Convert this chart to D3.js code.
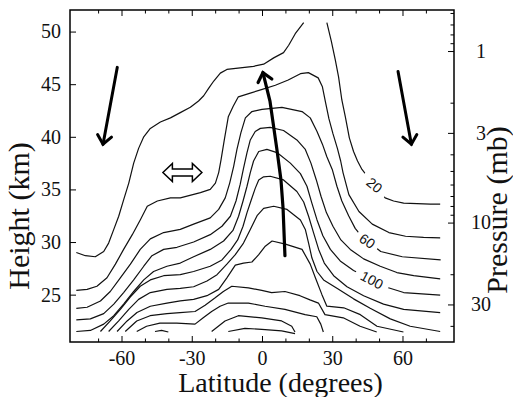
<!DOCTYPE html>
<html><head><meta charset="utf-8">
<script src="https://cdn.jsdelivr.net/npm/d3@7"></script>
<style>body{margin:0;background:#fff}</style>
</head><body>
<svg id="c" width="513" height="397"></svg>
<script>
// ---------- data ----------
const latTicks = [-60, -30, 0, 30, 60];
const latMinorTicks = [-70, -50, -40, -20, -10, 10, 20, 40, 50, 70];
const heightTicks = [25, 30, 35, 40, 45, 50];
const pressureLabels = [1, 3, 10, 30];
const pressureMinor = [0.6, 0.7, 0.8, 0.9, 2, 4, 5, 6, 7, 8, 9, 20, 40];
const Z1MB = 48.15, SCALE_H = 7.08;   // height of 1 mb level and scale height (km)

// contour lines [latitude, height km]
const c20a = [[-79.3,29.0],[-75.4,28.7],[-71.2,28.6],[-67.6,29.1],[-65.5,29.9],[-63.3,31.2],[-61.2,32.45],[-59.1,34.0],[-56.9,35.6],[-54.8,37.5],[-52.7,38.9],[-50.5,40.0],[-47.7,40.8],[-43.4,41.4],[-39.1,41.8],[-34.9,42.3],[-30.6,42.8],[-27.1,43.4],[-24.9,43.9],[-22.8,44.6],[-20.6,45.3],[-17.8,46.05],[-15.0,46.4],[-9.3,46.55],[-3.6,46.7],[0.7,46.9],[5.0,47.5],[9.2,48.0],[11.4,48.7],[14.2,49.8],[17.8,50.85]];
const c20b = [[27.7,50.85],[29.6,49.1],[31.3,47.3],[32.7,45.7],[34.1,43.5],[35.6,41.9],[37.3,39.9],[39.1,38.6],[40.8,37.7],[42.7,36.9],[44.1,36.5],[52.6,34.2],[56.2,33.9],[60.5,33.7],[66.2,33.65],[71.9,33.6],[76.1,33.6]];
const c40 = [[-79.3,25.4],[-74.7,25.5],[-70.5,25.8],[-66.2,26.6],[-62.6,27.9],[-59.1,29.3],[-55.4,30.7],[-52.0,32.1],[-49.0,33.4],[-44.7,33.9],[-39.1,34.2],[-34.9,34.2],[-26.3,34.7],[-22.1,35.0],[-19.9,35.6],[-18.5,36.6],[-17.5,37.8],[-16.1,39.7],[-14.4,41.9],[-12.3,42.9],[-10.1,43.8],[-5.0,44.15],[0.1,44.5],[5.7,44.9],[11.2,45.4],[16.4,46.0],[19.8,46.1],[24.0,45.6],[25.8,44.75],[27.2,43.2],[28.6,41.7],[30.3,40.3],[32.2,38.9],[33.6,37.7],[34.6,36.6],[37.1,34.5],[41.4,32.9],[47.1,31.7],[54.2,30.9],[61.3,30.55],[69.0,30.45],[76.1,30.4]];
const c60 = [[-79.3,23.7],[-74.7,23.8],[-69.0,24.4],[-64.8,25.3],[-60.5,26.6],[-56.2,27.9],[-52.0,29.3],[-47.7,30.3],[-42.0,30.9],[-34.9,31.2],[-29.2,31.7],[-22.1,32.3],[-18.5,33.1],[-15.7,34.2],[-13.8,35.6],[-12.1,37.2],[-10.7,38.8],[-9.0,40.4],[-7.1,41.8],[-4.3,42.4],[0.0,42.6],[8.5,42.8],[17.1,42.4],[20.6,41.8],[23.5,40.5],[25.8,39.3],[27.7,38.1],[30.0,36.9],[32.0,35.3],[34.1,33.9],[37.0,32.5],[39.8,31.3],[42.3,30.6],[50.7,29.1],[59.9,28.6],[76.3,28.3]];
const c80 = [[-79.3,22.6],[-73.3,22.7],[-67.6,23.2],[-63.3,24.1],[-59.1,25.2],[-54.8,26.4],[-50.5,27.7],[-47.0,28.7],[-42.0,29.3],[-36.3,29.5],[-29.2,30.0],[-22.1,30.7],[-17.1,31.5],[-13.5,32.45],[-11.1,33.9],[-9.3,35.5],[-7.9,37.0],[-6.4,38.5],[-5.0,39.7],[-2.9,40.5],[-0.7,40.8],[3.5,40.9],[9.2,40.6],[14.9,39.7],[18.5,38.8],[20.9,37.5],[23.2,35.9],[25.2,34.35],[27.5,32.8],[30.3,31.5],[33.7,30.2],[37.7,29.3],[43.4,28.4],[50.5,27.7],[57.6,27.1],[64.8,26.8],[76.1,26.5]];
const c100 = [[-79.3,21.5],[-73.3,21.6],[-67.6,22.2],[-63.3,23.0],[-59.1,24.1],[-54.8,25.3],[-50.5,26.4],[-46.3,27.2],[-40.6,27.7],[-34.9,28.0],[-29.2,28.6],[-22.1,29.3],[-16.4,30.1],[-12.4,31.1],[-10.0,32.45],[-8.1,33.9],[-6.4,35.3],[-5.0,36.6],[-3.6,37.7],[-1.4,38.6],[2.1,38.8],[6.4,38.5],[12.1,37.5],[16.4,36.5],[19.2,35.3],[21.3,33.7],[23.5,32.1],[26.0,30.6],[29.2,29.3],[33.4,28.2],[39.1,27.3],[53.3,25.7],[60.5,25.2],[76.1,24.95]];
const c120 = [[-69.0,21.5],[-64.8,22.5],[-60.5,23.6],[-56.2,24.8],[-52.0,25.8],[-47.7,26.4],[-42.0,26.8],[-34.9,26.9],[-29.2,27.2],[-22.1,27.7],[-17.1,28.3],[-13.2,29.3],[-10.4,30.2],[-8.1,31.5],[-6.4,32.8],[-4.6,34.0],[-2.9,35.1],[-1.4,35.9],[0.7,36.2],[3.5,36.25],[9.2,35.9],[14.9,34.8],[17.8,33.8],[19.9,32.45],[22.0,30.9],[24.2,29.3],[26.6,28.0],[30.6,26.8],[36.3,25.75],[43.4,24.9],[51.9,24.1],[60.5,23.6],[76.1,23.3]];
const c140 = [[-65.5,21.5],[-61.2,22.5],[-56.9,23.6],[-52.7,24.55],[-47.7,25.2],[-40.6,25.5],[-34.9,25.6],[-29.2,25.75],[-23.5,26.3],[-19.2,26.9],[-15.0,27.9],[-11.4,28.8],[-7.9,29.9],[-5.0,31.2],[-2.1,32.5],[0.7,33.2],[5.0,33.4],[10.7,33.1],[16.4,32.1],[18.5,31.2],[19.9,29.9],[21.3,28.5],[23.5,27.2],[26.3,26.4],[32.0,25.6],[39.1,24.6],[46.2,23.7],[54.8,22.7],[63.3,22.0],[76.1,21.5]];
const c160 = [[-61.9,21.5],[-57.6,22.5],[-53.4,23.3],[-47.7,23.9],[-40.6,24.2],[-34.9,24.4],[-29.2,24.55],[-23.5,24.9],[-18.5,25.5],[-15.0,26.6],[-11.4,27.8],[-7.9,28.0],[-4.3,28.1],[-1.4,28.8],[1.4,29.6],[4.3,30.1],[10.0,29.8],[17.1,29.3],[20.6,27.9],[22.8,26.6],[25.6,25.0],[27.7,23.9],[34.9,23.75],[42.0,23.1],[49.1,22.0],[60.4,21.45]];
const c180 = [[-58.4,21.5],[-53.5,22.5],[-47.8,23.0],[-40.6,23.2],[-35.0,23.3],[-28.6,23.4],[-24.3,24.0],[-20.0,24.7],[-16.5,25.3],[-12.9,25.8],[-5.8,25.65],[-0.1,25.4],[4.1,25.2],[9.8,25.3],[16.2,24.9],[20.5,24.5],[24.1,24.2],[26.9,23.1],[34.7,22.8],[41.9,22.0],[49.0,21.45]];
const c200 = [[-53.5,21.5],[-49.3,22.0],[-43.6,22.3],[-36.4,22.3],[-28.6,22.2],[-25.1,22.8],[-21.5,23.4],[-17.9,23.9],[-14.4,24.2],[-5.8,24.2],[1.3,23.9],[9.8,23.6],[18.4,23.1],[23.4,22.9],[25.1,22.2],[26.2,21.45]];
const c220a = [[-45.7,21.5],[-42.9,21.6],[-40.0,21.45]];
const c220b = [[-21.5,21.5],[-15.8,22.5],[-10.1,23.0],[-0.1,22.8],[8.4,22.5],[12.7,22.0],[14.1,21.45]];
const c240 = [[-14.4,21.5],[-7.3,21.8],[-0.1,21.7],[8.4,21.55],[14.1,21.3]];

const contours = [c20a, c20b, c40, c60, c80, c100, c120, c140, c160, c180, c200, c220a, c220b, c240];

// contour labels
const labelValues = ["20", "60", "100"];
const labelPos = [[48.0, 35.4], [45.0, 30.1], [47.0, 26.4]];
const labelAngle = [40, 35, 28];
const labelGap = [30, 25, 36];

// circulation arrows
const arrowLeft = [[-61.8, 46.6], [-67.9, 39.3]];
const arrowRight = [[58.1, 46.2], [63.8, 39.3]];
const arrowUp = [[9.8, 28.7], [9.0, 33.2], [8.1, 35.9], [6.3, 38.9], [3.4, 43.4], [0.4, 46.1]];
const doubleArrowCenter = [-34.0, 36.6];

// ---------- drawing ----------
const svg = d3.select('#c');
const L = 70, R = 454, T = 10, B = 342;
const x = d3.scaleLinear().domain([-82, 82]).range([L, R]);
const y = d3.scaleLinear().domain([20.5, 52.05]).range([B, T]);
const pOfZ = z => Math.exp((Z1MB - z) / SCALE_H);
const yp = d3.scaleLog().domain([pOfZ(52.05), pOfZ(20.5)]).range([T, B]);

const serif = '"Liberation Serif","Times New Roman",Times,serif';
const line = d3.line().x(d => x(d[0])).y(d => y(d[1]));

svg.append('rect').attr('width', 513).attr('height', 397).attr('fill', '#fff');

// contours
svg.append('g').selectAll('path').data(contours).join('path')
  .attr('d', line).attr('fill', 'none').attr('stroke', '#111')
  .attr('stroke-width', 1.2).attr('stroke-linejoin', 'round');

// contour labels
labelValues.forEach((v, i) => {
  const g = svg.append('g')
    .attr('transform', `translate(${x(labelPos[i][0])},${y(labelPos[i][1])}) rotate(${labelAngle[i]})`);
  g.append('rect').attr('x', -labelGap[i] / 2).attr('y', -6).attr('width', labelGap[i]).attr('height', 12).attr('fill', '#fff');
  g.append('text').attr('text-anchor', 'middle').attr('dy', '0.36em')
    .attr('font-family', '"Liberation Sans",Arial,Helvetica,sans-serif').attr('font-size', 14)
    .attr('fill', '#111').text(v);
});

// arrows
function drawArrow(pts, w) {
  const p = pts.map(d => [x(d[0]), y(d[1])]);
  svg.append('path').attr('d', d3.line()(p)).attr('fill', 'none')
    .attr('stroke', '#000').attr('stroke-width', w).attr('stroke-linecap', 'round');
  const tip = p[p.length - 1], prev = p[p.length - 2];
  const a = Math.atan2(prev[1] - tip[1], prev[0] - tip[0]);
  const len = 11, sp = 0.7;
  const a1 = [tip[0] + len * Math.cos(a + sp), tip[1] + len * Math.sin(a + sp)];
  const a2 = [tip[0] + len * Math.cos(a - sp), tip[1] + len * Math.sin(a - sp)];
  svg.append('path').attr('d', d3.line()([a1, tip, a2])).attr('fill', 'none')
    .attr('stroke', '#000').attr('stroke-width', w).attr('stroke-linecap', 'round').attr('stroke-linejoin', 'miter');
}
drawArrow(arrowLeft, 3);
drawArrow(arrowRight, 3);
drawArrow(arrowUp, 3.2);

// hollow double arrow
svg.append('path')
  .attr('transform', `translate(${x(doubleArrowCenter[0])},${y(doubleArrowCenter[1])})`)
  .attr('d', 'M-19.5,0 L-10,-9 L-10,-3.5 L10,-3.5 L10,-9 L19.5,0 L10,9 L10,3.5 L-10,3.5 L-10,9 Z')
  .attr('fill', '#fff').attr('stroke', '#000').attr('stroke-width', 1.5).attr('stroke-linejoin', 'miter');

// axes (inward ticks)
function styleAxis(g) {
  g.select('.domain').remove();
  g.selectAll('line').attr('stroke', '#000').attr('stroke-width', 1);
  g.selectAll('text').attr('font-family', serif).attr('font-size', 20).attr('fill', '#111');
}
svg.append('g').attr('transform', `translate(0,${B})`)
  .call(d3.axisBottom(x).tickValues(latTicks).tickSize(-6).tickPadding(9).tickFormat(d => d < 0 ? '-' + Math.abs(d) : d))
  .call(styleAxis);
svg.append('g').attr('transform', `translate(0,${B})`)
  .call(d3.axisBottom(x).tickValues(latMinorTicks).tickSize(-3.5).tickFormat(''))
  .call(styleAxis);
svg.append('g').attr('transform', `translate(0,${T})`)
  .call(d3.axisTop(x).tickValues(latTicks).tickSize(-6).tickFormat(''))
  .call(styleAxis);
svg.append('g').attr('transform', `translate(0,${T})`)
  .call(d3.axisTop(x).tickValues(latMinorTicks).tickSize(-3.5).tickFormat(''))
  .call(styleAxis);
svg.append('g').attr('transform', `translate(${L},0)`)
  .call(d3.axisLeft(y).tickValues(heightTicks).tickSize(-6).tickPadding(9))
  .call(styleAxis);
svg.append('g').attr('transform', `translate(${R},0)`)
  .call(d3.axisRight(yp).tickValues(pressureLabels).tickSize(-6).tickFormat(''))
  .call(styleAxis);
svg.append('g').attr('transform', `translate(${R},0)`)
  .call(d3.axisRight(yp).tickValues(pressureMinor.filter(p => yp(p) > T + 1 && yp(p) < B - 1)).tickSize(-3.5).tickFormat(''))
  .call(styleAxis);
svg.append('g').selectAll('text').data(pressureLabels).join('text')
  .attr('x', 481).attr('y', d => yp(d)).attr('dy', '0.34em').attr('text-anchor', 'middle')
  .attr('font-family', serif).attr('font-size', 20).attr('fill', '#111').text(d => d);

// frame
svg.append('rect').attr('x', L).attr('y', T).attr('width', R - L).attr('height', B - T)
  .attr('fill', 'none').attr('stroke', '#000').attr('stroke-width', 1.5);

// titles
svg.append('text').attr('x', 280.5).attr('y', 392).attr('text-anchor', 'middle')
  .attr('font-family', serif).attr('font-size', 28).attr('fill', '#111').text('Latitude (degrees)');
svg.append('text').attr('transform', 'translate(29,216) rotate(-90)').attr('text-anchor', 'middle')
  .attr('font-family', serif).attr('font-size', 30).attr('fill', '#111').text('Height (km)');
svg.append('text').attr('transform', 'translate(507,210) rotate(-90)').attr('text-anchor', 'middle')
  .attr('font-family', serif).attr('font-size', 30).attr('fill', '#111').text('Pressure (mb)');
</script>
</body></html>
